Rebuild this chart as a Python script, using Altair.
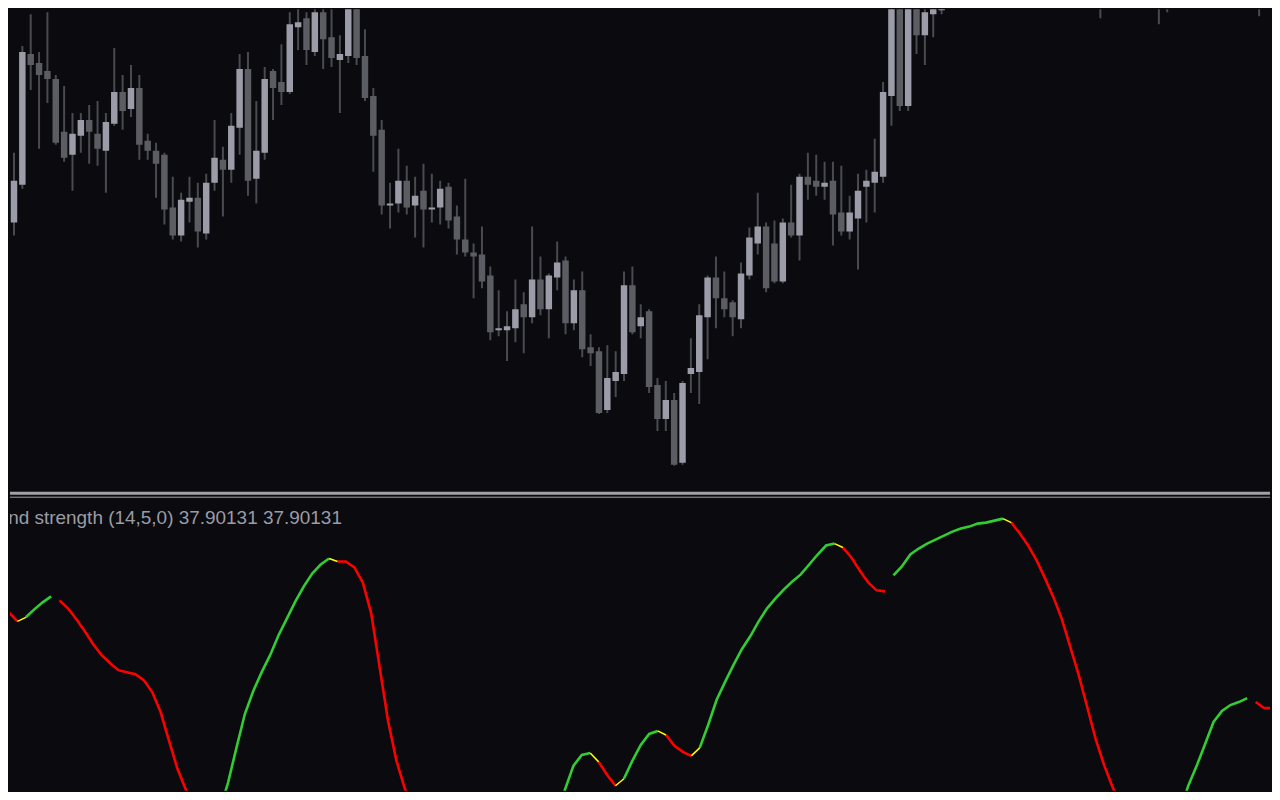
import altair as alt
import pandas as pd

# ---------------- price candles (bar index, OHLC) ----------------
bar_idx = list(range(0, 113)) + [131, 138, 139, 149, 150]

open_ = [1.2691, 1.2778, 1.2816, 1.2947, 1.2938, 1.2930, 1.2922, 1.2869, 1.2846, 1.2865,
         1.2881, 1.2867, 1.2850, 1.2877, 1.2909, 1.2892, 1.2913, 1.2860, 1.2850, 1.2846,
         1.2793, 1.2765, 1.2799, 1.2803, 1.2767, 1.2818, 1.2841, 1.2831, 1.2873, 1.2932,
         1.2822, 1.2848, 1.2930, 1.2919, 1.2909, 1.2974, 1.2983, 1.2949, 1.2989, 1.2964,
         1.2941, 1.2945, 1.2998, 1.2945, 1.2905, 1.2871, 1.2795, 1.2797, 1.2820, 1.2795,
         1.2810, 1.2791, 1.2793, 1.2814, 1.2784, 1.2761, 1.2748, 1.2746, 1.2725, 1.2670,
         1.2670, 1.2672, 1.2696, 1.2683, 1.2721, 1.2691, 1.2723, 1.2740, 1.2677, 1.2710,
         1.2653, 1.2649, 1.2590, 1.2619, 1.2626, 1.2715, 1.2674, 1.2689, 1.2615, 1.2581,
         1.2600, 1.2537, 1.2626, 1.2628, 1.2683, 1.2723, 1.2702, 1.2698, 1.2681, 1.2725,
         1.2757, 1.2774, 1.2757, 1.2719, 1.2778, 1.2765, 1.2824, 1.2820, 1.2814, 1.2820,
         1.2788, 1.2769, 1.2782, 1.2814, 1.2818, 1.2824, 1.2905, 1.2993, 1.2895, 1.3005,
         1.2966, 1.2987, 1.2991,
         1.3030, 1.3020, 1.3025, 1.3020, 1.3030]

high = [1.2785, 1.2848, 1.2955, 1.2987, 1.2949, 1.2989, 1.2926, 1.2915, 1.2888, 1.2888,
        1.2896, 1.2900, 1.2888, 1.2953, 1.2926, 1.2936, 1.2926, 1.2867, 1.2858, 1.2848,
        1.2824, 1.2808, 1.2824, 1.2818, 1.2827, 1.2881, 1.2854, 1.2888, 1.2947, 1.2949,
        1.2900, 1.2934, 1.2932, 1.2957, 1.2989, 1.3005, 1.2989, 1.2998, 1.2996, 1.3005,
        1.2966, 1.3003, 1.3004, 1.2972, 1.2913, 1.2881, 1.2818, 1.2852, 1.2835, 1.2824,
        1.2837, 1.2827, 1.2820, 1.2818, 1.2795, 1.2822, 1.2757, 1.2774, 1.2734, 1.2710,
        1.2689, 1.2721, 1.2708, 1.2774, 1.2744, 1.2727, 1.2759, 1.2744, 1.2721, 1.2729,
        1.2666, 1.2653, 1.2655, 1.2649, 1.2729, 1.2734, 1.2696, 1.2691, 1.2622, 1.2619,
        1.2607, 1.2619, 1.2662, 1.2696, 1.2725, 1.2744, 1.2729, 1.2700, 1.2738, 1.2773,
        1.2808, 1.2778, 1.2780, 1.2782, 1.2816, 1.2827, 1.2848, 1.2846, 1.2839, 1.2839,
        1.2835, 1.2805, 1.2827, 1.2831, 1.2862, 1.2919, 1.3020, 1.3010, 1.3015, 1.3015,
        1.3005, 1.3015, 1.3020,
        1.3060, 1.3050, 1.3055, 1.3050, 1.3060]

low = [1.2688, 1.2765, 1.2812, 1.2911, 1.2852, 1.2898, 1.2856, 1.2839, 1.2810, 1.2848,
       1.2837, 1.2835, 1.2808, 1.2875, 1.2871, 1.2884, 1.2841, 1.2841, 1.2803, 1.2776,
       1.2761, 1.2759, 1.2778, 1.2753, 1.2761, 1.2810, 1.2784, 1.2818, 1.2846, 1.2805,
       1.2797, 1.2841, 1.2881, 1.2896, 1.2907, 1.2951, 1.2936, 1.2945, 1.2932, 1.2934,
       1.2888, 1.2938, 1.2936, 1.2900, 1.2829, 1.2786, 1.2772, 1.2788, 1.2786, 1.2763,
       1.2753, 1.2778, 1.2776, 1.2772, 1.2746, 1.2744, 1.2702, 1.2712, 1.2660, 1.2664,
       1.2639, 1.2658, 1.2647, 1.2677, 1.2685, 1.2662, 1.2710, 1.2666, 1.2670, 1.2643,
       1.2634, 1.2586, 1.2587, 1.2603, 1.2619, 1.2666, 1.2662, 1.2607, 1.2569, 1.2569,
       1.2534, 1.2535, 1.2607, 1.2596, 1.2641, 1.2672, 1.2683, 1.2664, 1.2672, 1.2721,
       1.2746, 1.2708, 1.2717, 1.2717, 1.2763, 1.2740, 1.2801, 1.2805, 1.2801, 1.2755,
       1.2765, 1.2761, 1.2731, 1.2778, 1.2788, 1.2818, 1.2875, 1.2890, 1.2890, 1.2947,
       1.2936, 1.2964, 1.2987,
       1.2983, 1.2977, 1.2989, 1.2998, 1.2985]

close = [1.2778, 1.2820, 1.2949, 1.2936, 1.2926, 1.2922, 1.2858, 1.2843, 1.2867, 1.2881,
         1.2869, 1.2852, 1.2879, 1.2909, 1.2890, 1.2913, 1.2856, 1.2850, 1.2837, 1.2791,
         1.2765, 1.2801, 1.2803, 1.2769, 1.2818, 1.2843, 1.2831, 1.2875, 1.2932, 1.2820,
         1.2850, 1.2922, 1.2913, 1.2909, 1.2977, 1.2979, 1.2951, 1.2989, 1.2962, 1.2943,
         1.2947, 1.2998, 1.2943, 1.2903, 1.2865, 1.2795, 1.2797, 1.2820, 1.2793, 1.2805,
         1.2791, 1.2793, 1.2812, 1.2780, 1.2761, 1.2748, 1.2744, 1.2719, 1.2668, 1.2672,
         1.2674, 1.2691, 1.2683, 1.2721, 1.2691, 1.2725, 1.2738, 1.2677, 1.2710, 1.2651,
         1.2647, 1.2587, 1.2622, 1.2628, 1.2715, 1.2668, 1.2683, 1.2613, 1.2581, 1.2600,
         1.2535, 1.2617, 1.2632, 1.2685, 1.2723, 1.2702, 1.2691, 1.2683, 1.2727, 1.2763,
         1.2774, 1.2712, 1.2719, 1.2778, 1.2765, 1.2824, 1.2816, 1.2814, 1.2818, 1.2786,
         1.2769, 1.2788, 1.2810, 1.2820, 1.2829, 1.2909, 1.3010, 1.2895, 1.3005, 1.2966,
         1.2989, 1.3008, 1.3010,
         1.3040, 1.3035, 1.3015, 1.3030, 1.3020]

# ---------------- indicator segments (trend, first bar, values) ----------------
seg_trend = ["down", "turn", "up", "down", "turn", "up", "turn", "down",
             "up", "turn", "down", "turn", "up", "turn", "down", "turn",
             "up", "turn", "down", "up", "turn", "down", "up", "up",
             "down", "turn"]
seg_start = [0, 2, 3, 7, 24, 25, 39, 40,
             66, 70, 71, 73, 74, 78, 79, 82,
             83, 99, 100, 106, 119, 120, 135, 139,
             149, 151]
seg_values = [
    [80.0, 72.33, 69.33],
    [69.33, 70.67],
    [70.67, 73.33, 75.67, 77.67],
    [76.33, 73.67, 70.0, 66.0, 61.67, 58.0, 55.33, 53.0, 52.33, 51.67, 49.67, 45.67,
     39.0, 29.33, 20.0, 13.0, 6.0, 1.67],
    [1.67, 1.33],
    [1.33, 6.0, 15.33, 27.0, 38.33, 46.0, 52.33, 58.0, 64.67, 70.33, 76.0, 81.0,
     85.33, 88.33, 90.33],
    [90.33, 89.33],
    [89.33, 89.33, 87.33, 82.33, 72.0, 54.0, 36.0, 22.67, 13.33, 6.0, 2.67, 0.67],
    [4.0, 13.0, 21.0, 24.67, 25.33],
    [25.33, 22.33],
    [22.33, 18.0, 14.33],
    [14.33, 16.67],
    [16.67, 22.67, 28.0, 31.67, 32.67],
    [32.67, 31.33],
    [31.33, 27.67, 25.67, 24.33],
    [24.33, 27.0],
    [27.0, 34.67, 43.0, 49.0, 54.67, 60.0, 64.33, 69.33, 73.67, 77.0, 80.0, 82.67,
     85.0, 88.33, 91.67, 94.67, 95.33],
    [95.33, 94.0],
    [94.0, 90.67, 86.33, 82.33, 79.67, 79.33],
    [84.67, 87.67, 91.67, 93.67, 95.33, 96.67, 98.0, 99.33, 100.33, 101.0, 102.0,
     102.33, 103.0, 103.67],
    [103.67, 102.33],
    [102.33, 98.67, 94.67, 89.67, 83.67, 77.33, 70.0, 60.67, 51.33, 40.67, 30.0,
     21.33, 14.0, 7.33, 2.67],
    [6.0, 9.67, 10.33],
    [2.67, 6.0, 14.33, 21.0, 28.33, 35.67, 39.33, 41.33, 42.33, 43.67],
    [42.33, 40.33, 40.33],
    [40.33, 44.33],
]

LABEL = "Trend strength (14,5,0) 37.90131 37.90131"

# ---------------- styling ----------------
BG = "#0a0a0f"
BULL = "#9b9ca7"
BEAR = "#5c5d62"
WICK = "#4a4b50"
SEP = "#a2a2a8"
TEXTC = "#9c9ca4"
TREND_COLORS = {"up": "#32cd32", "down": "#ff0000", "turn": "#ffff00"}

W = 1264
H_TOP = 484
H_BOT = 300

X_DOM = [9.45 / 8.45, 1273.45 / 8.45]
P_DOM = [1.2508, 1.2992]
V_DOM = [12.6667, 112.6667]

# ---------------- data frames ----------------
cdf = pd.DataFrame({"i": bar_idx, "open": open_, "high": high, "low": low, "close": close})
cdf["lo"] = cdf[["open", "close"]].min(axis=1)
cdf["hi"] = cdf[["open", "close"]].max(axis=1)
cdf["col"] = [BULL if c > o else BEAR for o, c in zip(cdf["open"], cdf["close"])]

rows = []
for s, (tr, st, vals) in enumerate(zip(seg_trend, seg_start, seg_values)):
    for k, v in enumerate(vals):
        rows.append({"seg": s, "trend": tr, "col": TREND_COLORS[tr], "i": st + k, "v": v})
idf = pd.DataFrame(rows)

xenc = alt.X("i:Q", scale=alt.Scale(domain=X_DOM, nice=False, zero=False), axis=None)
pscale = alt.Scale(domain=P_DOM, nice=False, zero=False)
vscale = alt.Scale(domain=V_DOM, nice=False, zero=False)

# ---------------- top panel: candles ----------------
wicks = alt.Chart(cdf).mark_rule(color=WICK, strokeWidth=2, clip=True).encode(
    x=xenc,
    y=alt.Y("low:Q", scale=pscale, axis=None),
    y2="high:Q",
)
bodies = alt.Chart(cdf).mark_bar(size=6.5, clip=True).encode(
    x=xenc,
    y=alt.Y("lo:Q", scale=pscale, axis=None),
    y2="hi:Q",
    color=alt.Color("col:N", scale=None, legend=None),
)
top = alt.layer(wicks, bodies).properties(width=W, height=H_TOP)

# ---------------- bottom panel: indicator ----------------
one = pd.DataFrame({"k": [0]})
sep1 = alt.Chart(one).mark_rule(color=SEP, strokeWidth=3).encode(
    x=alt.value(0), x2=alt.value(W), y=alt.value(1.5)
)
sep2 = alt.Chart(one).mark_rule(color=SEP, strokeWidth=1).encode(
    x=alt.value(0), x2=alt.value(W), y=alt.value(5.5)
)
label = alt.Chart(pd.DataFrame({"t": [LABEL]})).mark_text(
    align="right", baseline="alphabetic", font="Liberation Sans", fontSize=19,
    color=TEXTC, clip=True
).encode(x=alt.value(333), y=alt.value(32), text="t:N")

main_lines = alt.Chart(idf).transform_filter("datum.trend != 'turn'").mark_line(
    strokeWidth=2.6, clip=True
).encode(
    x=xenc,
    y=alt.Y("v:Q", scale=vscale, axis=None),
    color=alt.Color("col:N", scale=None, legend=None),
    detail="seg:N",
    order="i:Q",
)
turn_lines = alt.Chart(idf).transform_filter("datum.trend == 'turn'").mark_line(
    strokeWidth=1.5, clip=True
).encode(
    x=xenc,
    y=alt.Y("v:Q", scale=vscale, axis=None),
    color=alt.Color("col:N", scale=None, legend=None),
    detail="seg:N",
    order="i:Q",
)
bottom = alt.layer(sep1, sep2, label, main_lines, turn_lines).properties(width=W, height=H_BOT)

chart = alt.vconcat(top, bottom, spacing=0).properties(
    padding=0, background=BG
).configure_view(stroke=None)

chart.save("out.html", embed_options={"renderer": "svg", "actions": False})
